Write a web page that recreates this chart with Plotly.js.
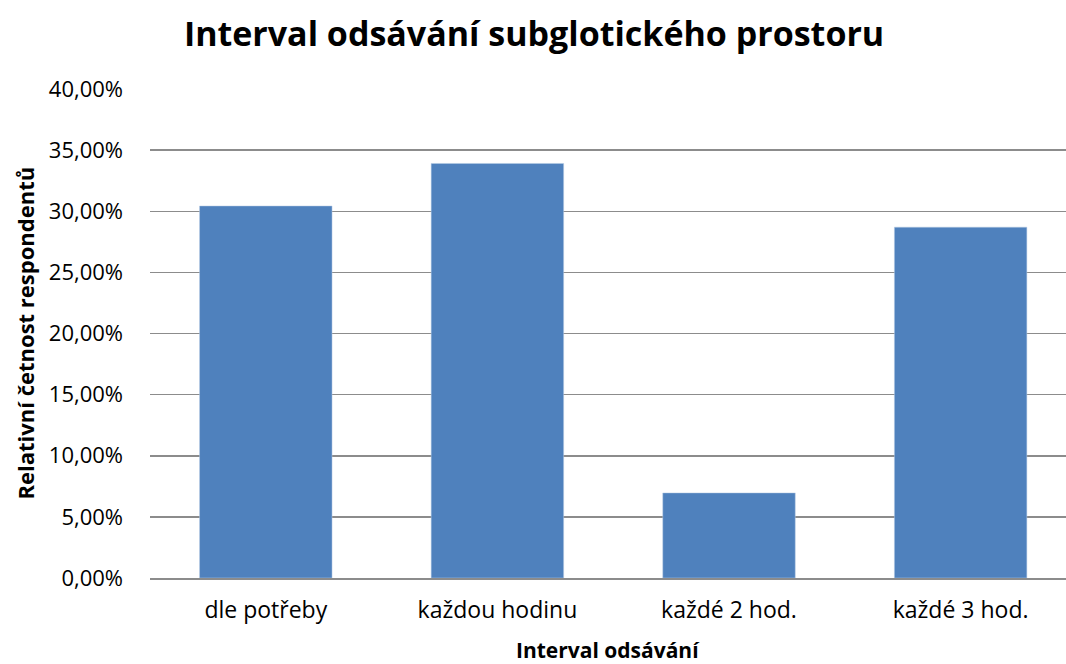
<!DOCTYPE html>
<html>
<head>
<meta charset="utf-8">
<script src="https://cdn.plot.ly/plotly-3.0.1.min.js"></script>
<style>html,body{margin:0;padding:0;background:#fff;}#chart{width:1066px;height:664px;}</style>
</head>
<body>
<div id="chart"></div>
<script>
const categories = ["dle potřeby", "každou hodinu", "každé 2 hod.", "každé 3 hod."];
const values = [0.3043, 0.3391, 0.0696, 0.2870];
const yTickValues = [0, 0.05, 0.10, 0.15, 0.20, 0.25, 0.30, 0.35, 0.40];
const titleText = "Interval odsávání subglotického prostoru";
const xTitleText = "Interval odsávání";
const yTitleText = "Relativní četnost respondentů";

const FONT = "'Open Sans', 'Noto Sans', 'DejaVu Sans', sans-serif";

const trace = {
  type: "bar",
  x: categories,
  y: values,
  marker: {color: "#4F81BD", line: {color: "#B9CDE5", width: 0.5}},
  hoverinfo: "skip"
};

const layout = {
  width: 1066,
  height: 664,
  margin: {l: 150, r: 0, t: 89, b: 86},
  paper_bgcolor: "#fff",
  plot_bgcolor: "#fff",
  separators: ", ",
  bargap: 0.428,
  showlegend: false,
  font: {family: FONT, color: "#000"},
  title: {
    text: "<b>" + titleText + "</b>",
    font: {family: FONT, size: 34, color: "#000"},
    xref: "container",
    x: 0.501, xanchor: "center",
    yref: "container",
    y: 0.948, yanchor: "middle"
  },
  xaxis: {
    type: "category",
    range: [-0.5, 3.455],
    showgrid: false,
    showline: true,
    linecolor: "#8C8C8C",
    linewidth: 1.5,
    ticks: "",
    tickfont: {family: FONT, size: 23, color: "#000"},
    ticklabelstandoff: 11,
    fixedrange: true
  },
  yaxis: {
    range: [0, 0.4],
    tickvals: yTickValues,
    tickformat: ".2%",
    showgrid: true,
    gridcolor: "#8C8C8C",
    gridwidth: 1.5,
    zeroline: false,
    showline: false,
    ticks: "",
    tickfont: {family: FONT, size: 22, color: "#000"},
    ticklabelstandoff: 26,
    fixedrange: true
  },
  annotations: [
    {
      text: "<b>" + yTitleText + "</b>",
      xref: "paper", yref: "paper",
      x: 0, y: 0.5, xshift: -126,
      xanchor: "center", yanchor: "middle",
      textangle: -90,
      showarrow: false,
      font: {family: FONT, size: 22, color: "#000"}
    },
    {
      text: "<b>" + xTitleText + "</b>",
      xref: "paper", yref: "paper",
      x: 0.5, y: 0, yshift: -72,
      xanchor: "center", yanchor: "middle",
      showarrow: false,
      font: {family: FONT, size: 21, color: "#000"}
    }
  ]
};

Plotly.newPlot("chart", [trace], layout, {displayModeBar: false, staticPlot: true});
</script>
</body>
</html>
